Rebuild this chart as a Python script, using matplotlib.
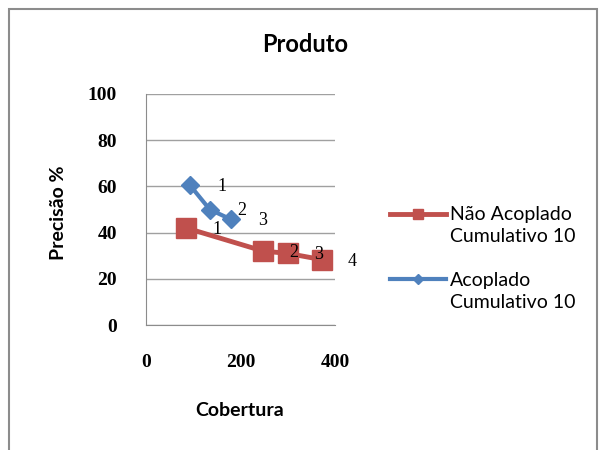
import matplotlib.pyplot as plt
from matplotlib.patches import Rectangle
from matplotlib.lines import Line2D

# data
nao_x = [85, 248, 300, 372]
nao_y = [42.0, 32.0, 31.0, 28.3]
nao_lbl = ['1', '2', '3', '4']

acop_x = [93, 135, 180]
acop_y = [60.5, 50.0, 45.7]
acop_lbl = ['1', '2', '3']

yticks = [0, 20, 40, 60, 80, 100]
xticks = [0, 200, 400]
legend_labels = [['Não Acoplado', 'Cumulativo 10'], ['Acoplado', 'Cumulativo 10']]

red = '#C0504D'
blue = '#4F81BD'
sans = ['Lato', 'DejaVu Sans']
serif = ['Liberation Serif', 'DejaVu Serif']

fig = plt.figure(figsize=(6.01, 4.5), dpi=100)
ax = fig.add_axes([146/601, 1-325/450, (335-146)/601, (325-94)/450])

# outer chart border
fig.patches.append(Rectangle((9/601, -0.05), (597-9)/601, 1.05-9/450,
                             transform=fig.transFigure, fill=False,
                             edgecolor='#8c8c8c', linewidth=1.5))

l1, = ax.plot(nao_x, nao_y, color=red, lw=3.5, marker='s', ms=14, zorder=3)
l2, = ax.plot(acop_x, acop_y, color=blue, lw=3, marker='D', ms=9.5, zorder=4)

for x, y, t in zip(nao_x, nao_y, nao_lbl):
    ax.annotate(t, (x, y), xytext=(22, -1), textcoords='offset points',
                ha='center', va='center', fontsize=13, family=serif)
for x, y, t in zip(acop_x, acop_y, acop_lbl):
    ax.annotate(t, (x, y), xytext=(23, -1), textcoords='offset points',
                ha='center', va='center', fontsize=13, family=serif)

ax.set_xlim(0, 400)
ax.set_ylim(0, 100)
ax.set_xticks(xticks)
ax.set_yticks(yticks)
ax.tick_params(length=0)
ax.tick_params(axis='x', pad=21)
ax.tick_params(axis='y', pad=21)
for lab in ax.get_xticklabels() + ax.get_yticklabels():
    lab.set_fontfamily(serif)
    lab.set_fontweight('bold')
    lab.set_fontsize(14)
ax.grid(axis='y', color='#a0a0a0', lw=1)
ax.set_axisbelow(True)
for s in ['top', 'right']:
    ax.spines[s].set_visible(False)
for s in ['left', 'bottom']:
    ax.spines[s].set_color('#8c8c8c')

fig.text(305/601, 1-45/450, 'Produto', ha='center', va='center',
         fontsize=17, fontweight='bold', family=sans)
fig.text(240/601, 1-410/450, 'Cobertura', ha='center', va='center',
         fontsize=14, fontweight='bold', family=sans)
fig.text(58/601, 1-213/450, 'Precisão %', ha='center', va='center',
         rotation=90, fontsize=14, fontweight='bold', family=sans)

# legend: marker sits on the first line of each two-line label
blank = Line2D([], [], color='none')
handles = [Line2D([], [], color=red, lw=3.5, marker='s', ms=7), blank, blank,
           Line2D([], [], color=blue, lw=3, marker='D', ms=5), blank]
labels = [legend_labels[0][0], legend_labels[0][1], ' ',
          legend_labels[1][0], legend_labels[1][1]]
fig.legend(handles, labels, loc='upper left', bbox_to_anchor=(372/601, 1-189/450),
           frameon=False, prop={'family': sans, 'size': 14},
           handlelength=2.9, handletextpad=0.2, labelspacing=0.25)

fig.savefig('out.png', dpi=100)
